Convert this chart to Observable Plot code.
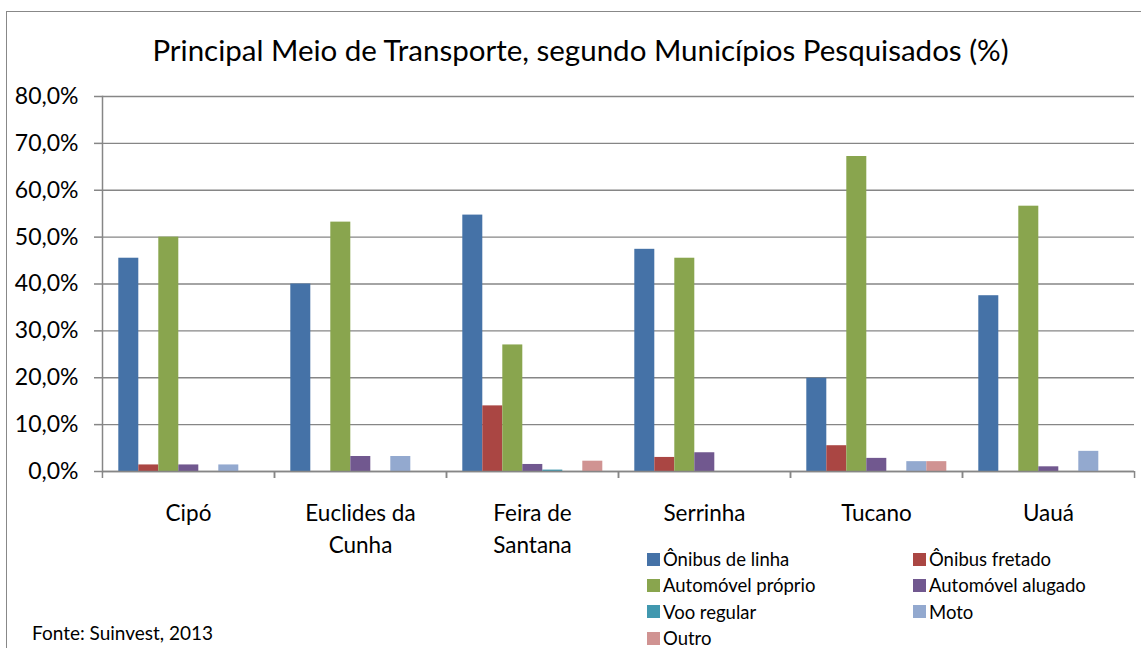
<!DOCTYPE html>
<html>
<head>
<meta charset="utf-8">
<script src="https://cdn.jsdelivr.net/npm/d3@7"></script>
<script src="https://cdn.jsdelivr.net/npm/@observablehq/plot@0.6"></script>
<style>
  html, body { margin: 0; padding: 0; background: #fff; }
  #wrap { position: relative; width: 1141px; height: 648px; overflow: hidden; font-family: Lato, "Open Sans", sans-serif; color: #000; }
  #border { position: absolute; left: 6px; top: 11px; right: -10px; bottom: -10px; border-left: 1px solid #888; border-top: 1px solid #888; }
  #chart { position: absolute; left: 0; top: 0; }
  #title { position: absolute; left: 0; width: 1161px; top: 35px; text-align: center; font-size: 29.5px; line-height: 1; white-space: nowrap; }
  #legend { position: absolute; left: 647px; top: 550px; width: 480px; font-size: 18.5px; line-height: 1; }
  .li { position: absolute; display: flex; align-items: center; white-space: nowrap; }
  .sw { width: 13px; height: 13px; margin-right: 3px; }
  #caption { position: absolute; left: 32px; top: 623px; font-size: 19px; line-height: 1; white-space: nowrap; }
</style>
</head>
<body>
<div id="wrap">
  <div id="border"></div>
  <div id="chart"></div>
  <div id="title"></div>
  <div id="legend"></div>
  <div id="caption"></div>
</div>
<script>
// ---- data ----
const titleText = "Principal Meio de Transporte, segundo Municípios Pesquisados (%)";
const captionText = "Fonte: Suinvest, 2013";
const municipios = ["Cipó", "Euclides da Cunha", "Feira de Santana", "Serrinha", "Tucano", "Uauá"];
const municipioLabels = ["Cipó", "Euclides da\nCunha", "Feira de\nSantana", "Serrinha", "Tucano", "Uauá"];
const series = ["Ônibus de linha", "Ônibus fretado", "Automóvel próprio", "Automóvel alugado", "Voo regular", "Moto", "Outro"];
const colors = ["#4572A7", "#AA4643", "#89A54E", "#71588F", "#4198AF", "#93A9CF", "#D09392"];
const onibusLinha      = [45.5, 40.0, 54.7, 47.4, 19.9, 37.5];
const onibusFretado    = [1.4, 0, 14.0, 3.0, 5.5, 0];
const automovelProprio = [50.0, 53.2, 27.0, 45.5, 67.2, 56.6];
const automovelAlugado = [1.4, 3.2, 1.5, 4.0, 2.8, 1.0];
const vooRegular       = [0, 0, 0.3, 0, 0, 0];
const moto             = [1.4, 3.2, 0, 0, 2.1, 4.3];
const outro            = [0, 0, 2.2, 0, 2.1, 0];
const yTicks = [0, 10, 20, 30, 40, 50, 60, 70, 80];

const seriesValues = [onibusLinha, onibusFretado, automovelProprio, automovelAlugado, vooRegular, moto, outro];
const data = [];
municipios.forEach((m, i) => {
  series.forEach((s, j) => data.push({municipio: m, serie: s, value: seriesValues[j][i]}));
});

// ---- layout ----
const W = 1141, H = 648;
const marginLeft = 101.7, marginRight = 6.7, marginTop = 96, marginBottom = 177;
const step = (W - marginLeft - marginRight) / municipios.length;
const gray = "#868686";
const labelOf = new Map(municipios.map((m, i) => [m, municipioLabels[i]]));

const plot = Plot.plot({
  width: W,
  height: H,
  marginLeft, marginRight, marginTop, marginBottom,
  style: {fontFamily: "Lato, 'Open Sans', sans-serif", background: "transparent", overflow: "visible"},
  fx: {domain: municipios, paddingInner: 0, paddingOuter: 0, label: null},
  x: {domain: series, paddingInner: 0, paddingOuter: 0.74, axis: null},
  y: {domain: [0, 80], label: null},
  color: {domain: series, range: colors},
  marks: [
    Plot.gridY(yTicks, {stroke: gray, strokeOpacity: 1, strokeWidth: 1.3}),
    Plot.barY(data, {fx: "municipio", x: "serie", y: "value", fill: "serie"}),
    Plot.ruleY([0], {stroke: gray, strokeWidth: 1.5}),
    Plot.frame({anchor: "left", facetAnchor: "left", stroke: gray, strokeWidth: 1.5}),
    Plot.axisY(yTicks, {tickSize: 8, tickPadding: 16, stroke: gray, strokeWidth: 1.5, fontSize: 23, fill: "#000",
      tickFormat: d => d.toFixed(1).replace(".", ",") + "%", label: null}),
    Plot.axisFx({anchor: "bottom", tickSize: 0, tickPadding: 27, fontSize: 22.5, lineHeight: 1.42, fill: "#000",
      tickFormat: d => labelOf.get(d), label: null}),
    Plot.axisFx({anchor: "bottom", tickSize: 7, stroke: gray, strokeWidth: 1.5, fill: "none", dx: -step / 2, label: null}),
    Plot.axisFx({anchor: "bottom", tickSize: 7, stroke: gray, strokeWidth: 1.5, fill: "none", dx: step / 2, label: null})
  ]
});
document.getElementById("chart").appendChild(plot);

document.getElementById("title").textContent = titleText;
document.getElementById("caption").textContent = captionText;

const legend = document.getElementById("legend");
series.forEach((s, i) => {
  const col = i % 2, row = Math.floor(i / 2);
  const el = document.createElement("div");
  el.className = "li";
  el.style.left = (col * 266) + "px";
  el.style.top = (row * 26.3) + "px";
  const sw = document.createElement("div");
  sw.className = "sw";
  sw.style.background = colors[i];
  const tx = document.createElement("span");
  tx.textContent = s;
  el.appendChild(sw);
  el.appendChild(tx);
  legend.appendChild(el);
});
</script>
</body>
</html>
